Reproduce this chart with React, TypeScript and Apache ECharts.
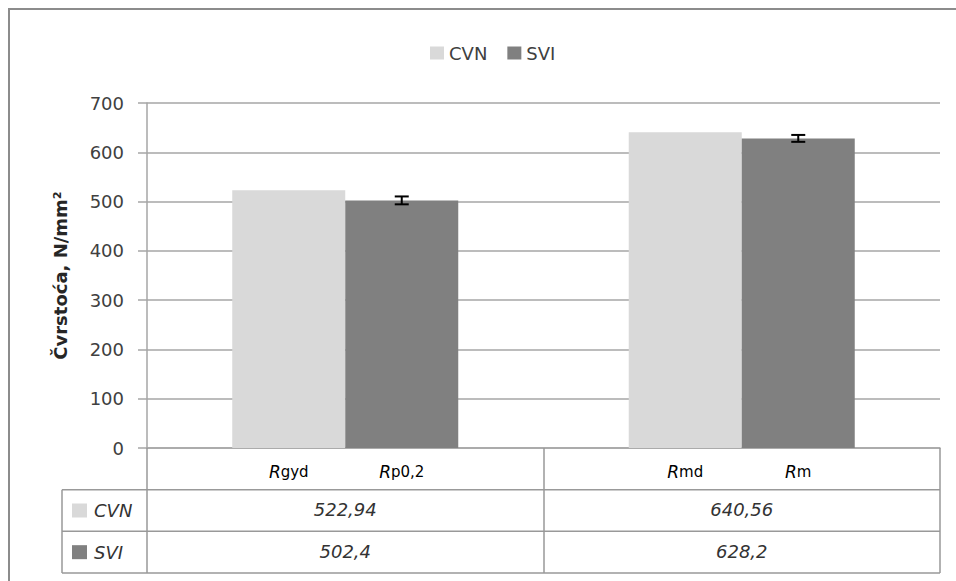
import React, { useEffect, useRef } from 'react';
import * as echarts from 'echarts';

// ---- data ----
const categories = ['Rgyd / Rp0,2', 'Rmd / Rm'];
const seriesNames = ['CVN', 'SVI'];
const cvnValues = [522.94, 640.56];
const sviValues = [502.4, 628.2];
const sviErrors = [8, 7];
const cvnSubLabels = ['gyd', 'md'];
const sviSubLabels = ['p0,2', 'm'];
const yMin = 0;
const yMax = 700;
const yInterval = 100;
const yAxisTitle = 'Čvrstoća, N/mm²';

// ---- styles / layout ----
const COLORS = { cvn: '#d9d9d9', svi: '#808080', grid: '#a6a6a6', table: '#999999', text: '#333333' };
const FONT = 'DejaVu Sans';
const GRID = { left: 147, top: 103, width: 793, height: 345 };
const ROW_H = 41.67;
const TABLE_LEFT = 62;
const BAR_CATEGORY_GAP = 0.43;

const fmt = (v: number) => String(v).replace('.', ',');

export default function App() {
  const ref = useRef<HTMLDivElement>(null);

  useEffect(() => {
    if (!ref.current) return;
    const chart = echarts.init(ref.current, undefined, { renderer: 'svg' });

    const axisY = GRID.top + GRID.height;
    const right = GRID.left + GRID.width;
    const row1 = axisY + ROW_H;
    const row2 = axisY + 2 * ROW_H;
    const row3 = axisY + 3 * ROW_H;
    const lineStyle = { stroke: COLORS.table, lineWidth: 1.5 };

    const hLine = (y: number) => ({
      type: 'line',
      shape: { x1: TABLE_LEFT, y1: y, x2: right, y2: y },
      style: lineStyle,
      silent: true,
    });

    const headerRow = (name: string, color: string, yc: number) => [
      {
        type: 'rect',
        shape: { x: TABLE_LEFT + 10, y: yc - 7, width: 15, height: 14 },
        style: { fill: color },
      },
      {
        type: 'text',
        x: TABLE_LEFT + 32,
        y: yc,
        style: {
          text: name,
          fontFamily: FONT,
          fontSize: 18,
          fontStyle: 'italic',
          fill: COLORS.text,
          verticalAlign: 'middle',
          align: 'left',
        },
      },
    ];

    const subLabel = (subs: string[]) => ({
      show: true,
      position: ['50%', '100%'],
      offset: [0, 24],
      align: 'center',
      verticalAlign: 'middle',
      formatter: (p: any) => `{r|R}{s|${subs[p.dataIndex]}}`,
      rich: {
        r: { fontFamily: FONT, fontSize: 17, fontStyle: 'italic', color: '#000' },
        s: { fontFamily: FONT, fontSize: 15, color: '#000' },
      },
    });

    const option: any = {
      animation: false,
      backgroundColor: '#ffffff',
      textStyle: { fontFamily: FONT },
      legend: {
        data: seriesNames,
        left: 425,
        top: 39,
        icon: 'rect',
        itemWidth: 14,
        itemHeight: 13,
        itemGap: 20,
        textStyle: { fontFamily: FONT, fontSize: 18, color: '#404040' },
      },
      grid: { left: GRID.left, top: GRID.top, width: GRID.width, height: GRID.height },
      xAxis: {
        type: 'category',
        data: categories,
        axisLine: { show: true, lineStyle: { color: COLORS.grid, width: 1.5 } },
        axisTick: {
          show: true,
          interval: 0,
          alignWithLabel: false,
          length: 3 * ROW_H,
          lineStyle: { color: COLORS.table, width: 1.5 },
        },
        axisLabel: {
          interval: 0,
          margin: 41,
          formatter: (_v: string, i: number) => `{v|${fmt(cvnValues[i])}}\n{v|${fmt(sviValues[i])}}`,
          rich: {
            v: { fontFamily: FONT, fontSize: 18, fontStyle: 'italic', color: COLORS.text, lineHeight: ROW_H },
          },
        },
      },
      yAxis: {
        type: 'value',
        min: yMin,
        max: yMax,
        interval: yInterval,
        name: yAxisTitle,
        nameLocation: 'middle',
        nameGap: 78,
        nameTextStyle: { fontFamily: FONT, fontSize: 18, fontWeight: 'bold', color: '#262626' },
        axisLine: { show: true, lineStyle: { color: COLORS.grid, width: 1.5 } },
        axisTick: { show: true, length: 9, lineStyle: { color: COLORS.grid, width: 1.5 } },
        axisLabel: { fontFamily: FONT, fontSize: 18, color: '#404040', margin: 23 },
        splitLine: { show: true, lineStyle: { color: COLORS.grid, width: 1.5 } },
      },
      series: [
        {
          name: seriesNames[0],
          type: 'bar',
          data: cvnValues,
          barGap: '0%',
          barCategoryGap: `${BAR_CATEGORY_GAP * 100}%`,
          itemStyle: { color: COLORS.cvn },
          label: subLabel(cvnSubLabels),
        },
        {
          name: seriesNames[1],
          type: 'bar',
          data: sviValues,
          barGap: '0%',
          barCategoryGap: `${BAR_CATEGORY_GAP * 100}%`,
          itemStyle: { color: COLORS.svi },
          label: subLabel(sviSubLabels),
        },
        {
          name: 'SVI error',
          type: 'custom',
          z: 10,
          data: sviValues.map((v, i) => [i, v, sviErrors[i]]),
          encode: { x: 0, y: 1 },
          renderItem: (_params: any, api: any) => {
            const idx = api.value(0);
            const val = api.value(1);
            const err = api.value(2);
            const band = api.size([1, 0])[0];
            const barW = (band * (1 - BAR_CATEGORY_GAP)) / 2;
            const c = api.coord([idx, val]);
            const x = c[0] + barW / 2;
            const yTop = api.coord([idx, val + err])[1];
            const yBot = api.coord([idx, val - err])[1];
            const cap = 7;
            const style = { stroke: '#000', lineWidth: 2 };
            return {
              type: 'group',
              children: [
                { type: 'line', shape: { x1: x, y1: yTop, x2: x, y2: yBot }, style },
                { type: 'line', shape: { x1: x - cap, y1: yTop, x2: x + cap, y2: yTop }, style },
                { type: 'line', shape: { x1: x - cap, y1: yBot, x2: x + cap, y2: yBot }, style },
              ],
            };
          },
        },
      ],
      graphic: [
        {
          type: 'rect',
          shape: { x: 9, y: 9, width: 1200, height: 1200 },
          style: { fill: 'none', stroke: '#8c8c8c', lineWidth: 2 },
          silent: true,
        },
        hLine(row1),
        hLine(row2),
        hLine(row3),
        {
          type: 'line',
          shape: { x1: TABLE_LEFT, y1: row1, x2: TABLE_LEFT, y2: row3 },
          style: lineStyle,
          silent: true,
        },
        ...headerRow(seriesNames[0], COLORS.cvn, (row1 + row2) / 2),
        ...headerRow(seriesNames[1], COLORS.svi, (row2 + row3) / 2),
      ],
    };

    chart.setOption(option);
    return () => chart.dispose();
  }, []);

  return (
    <div
      ref={ref}
      style={{ position: 'fixed', left: 0, top: 0, width: 956, height: 581, background: '#fff' }}
    />
  );
}
